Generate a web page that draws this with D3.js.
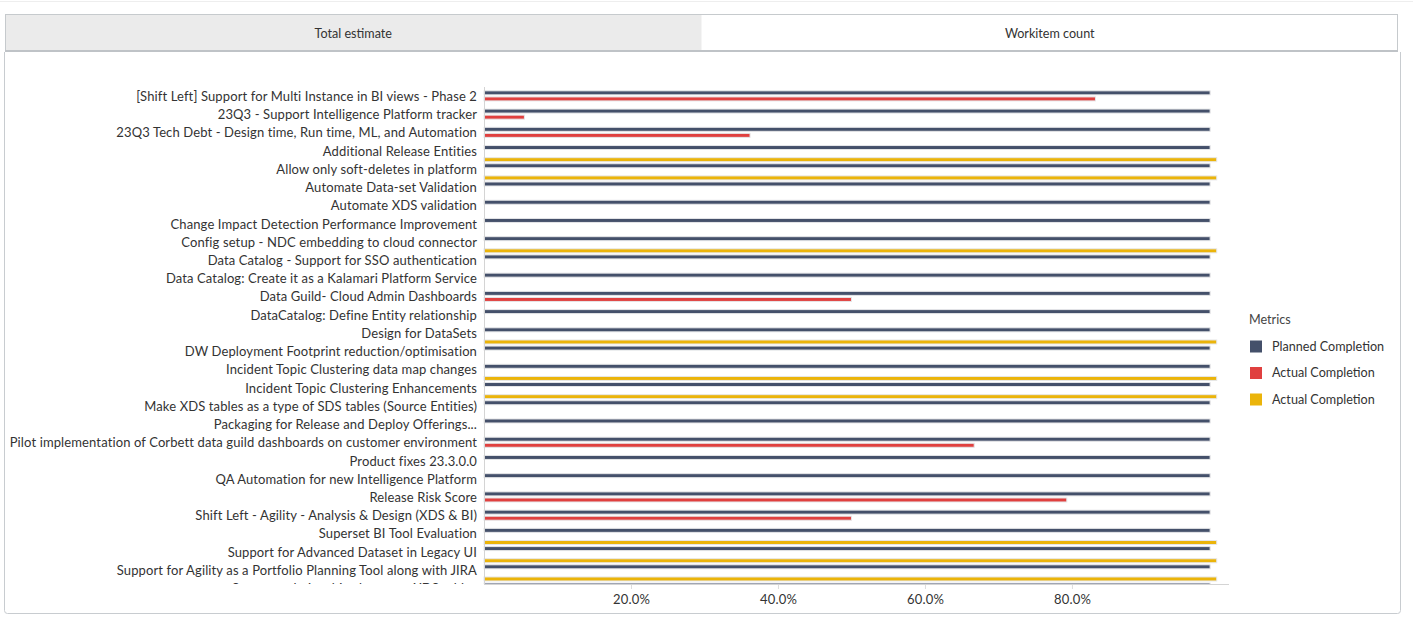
<!DOCTYPE html>
<html>
<head>
<meta charset="utf-8">
<script src="https://cdn.jsdelivr.net/npm/d3@7"></script>
<style>
  html, body { margin: 0; padding: 0; background: #fff; }
  body { width: 1413px; height: 626px; overflow: hidden; font-family: Lato, "Open Sans", sans-serif; }
</style>
</head>
<body>
<svg id="chart" width="1413" height="626"></svg>
<script>
const categories = [
  "[Shift Left] Support for Multi Instance in BI views - Phase 2",
  "23Q3 - Support Intelligence Platform tracker",
  "23Q3 Tech Debt - Design time, Run time, ML, and Automation",
  "Additional Release Entities",
  "Allow only soft-deletes in platform",
  "Automate Data-set Validation",
  "Automate XDS validation",
  "Change Impact Detection Performance Improvement",
  "Config setup - NDC embedding to cloud connector",
  "Data Catalog - Support for SSO authentication",
  "Data Catalog: Create it as a Kalamari Platform Service",
  "Data Guild- Cloud Admin Dashboards",
  "DataCatalog: Define Entity relationship",
  "Design for DataSets",
  "DW Deployment Footprint reduction/optimisation",
  "Incident Topic Clustering data map changes",
  "Incident Topic Clustering Enhancements",
  "Make XDS tables as a type of SDS tables (Source Entities)",
  "Packaging for Release and Deploy Offerings...",
  "Pilot implementation of Corbett data guild dashboards on customer environment",
  "Product fixes 23.3.0.0",
  "QA Automation for new Intelligence Platform",
  "Release Risk Score",
  "Shift Left - Agility - Analysis & Design (XDS & BI)",
  "Superset BI Tool Evaluation",
  "Support for Advanced Dataset in Legacy UI",
  "Support for Agility as a Portfolio Planning Tool along with JIRA",
  "Support relationships between XDS tables"
];
const plannedCompletion = [0.988,0.988,0.988,0.988,0.988,0.988,0.988,0.988,0.988,0.988,0.988,0.988,0.988,0.988,0.988,0.988,0.988,0.988,0.988,0.988,0.988,0.988,0.988,0.988,0.988,0.988,0.988,0.988];
const actualCompletionRed = [0.832,0.055,0.362,0,0,0,0,0,0,0,0,0.5,0,0,0,0,0,0,0,0.667,0,0,0.793,0.5,0,0,0,0];
const actualCompletionYellow = [0,0,0,0.997,0.997,0,0,0,0.997,0,0,0,0,0.997,0,0.997,0.997,0,0,0,0,0,0,0,0.997,0.997,0.997,0];
const xTicks = [0.2, 0.4, 0.6, 0.8];
const seriesNames = ["Planned Completion", "Actual Completion", "Actual Completion"];
const seriesKeys = ["planned", "red", "yellow"];
const seriesColors = ["#44506a", "#e0403f", "#ebb40a"];
const tabLabels = ["Total estimate", "Workitem count"];
const legendTitle = "Metrics";

const svg = d3.select("#chart");

// top faint line
svg.append("line").attr("x1", 0).attr("x2", 1413).attr("y1", 1.5).attr("y2", 1.5)
  .attr("stroke", "#eeeeee").attr("stroke-width", 1);

// tabs
const tabX = d3.scaleBand().domain(tabLabels).range([5, 1398]).padding(0);
svg.append("rect").attr("x", 5.5).attr("y", 14.5).attr("width", 1392).attr("height", 37)
  .attr("fill", "#fff").attr("stroke", "#c6cacd");
svg.append("rect").attr("x", 6).attr("y", 15).attr("width", tabX.bandwidth() - 1).attr("height", 36)
  .attr("fill", "#ebebeb");
svg.selectAll("text.tab").data(tabLabels).join("text").attr("class", "tab")
  .attr("x", d => tabX(d) + tabX.bandwidth() / 2).attr("y", 34.5)
  .attr("text-anchor", "middle").attr("dominant-baseline", "middle")
  .attr("font-size", 12.6).attr("letter-spacing", 0).attr("fill", "#333").text(d => d);
svg.append("line").attr("x1", 5).attr("x2", 1398).attr("y1", 51).attr("y2", 51)
  .attr("stroke", "#bfc3c7").attr("stroke-width", 2);

// panel
svg.append("path")
  .attr("d", "M4.5,52 L4.5,610.5 Q4.5,613.5 7.5,613.5 L1397.5,613.5 Q1400.5,613.5 1400.5,610.5 L1400.5,52")
  .attr("fill", "none").attr("stroke", "#c8ccd0").attr("stroke-width", 1);

// scales
const x = d3.scaleLinear().domain([0, 1.0137]).range([484, 1229]);
const y = d3.scaleBand().domain(categories).range([89.2, 89.2 + categories.length * 18.23]).padding(0);
const ySub = d3.scaleBand().domain(seriesKeys).range([0, y.bandwidth()]).padding(0);

const data = categories.map((c, i) => ({
  cat: c,
  planned: plannedCompletion[i],
  red: actualCompletionRed[i],
  yellow: actualCompletionYellow[i]
}));

// clip for scrolling plot
svg.append("defs").append("clipPath").attr("id", "plotClip")
  .append("rect").attr("x", 0).attr("y", 84).attr("width", 1240).attr("height", 500);

const plot = svg.append("g").attr("clip-path", "url(#plotClip)");

// labels
plot.selectAll("text.cat").data(categories).join("text").attr("class", "cat")
  .attr("x", 477).attr("y", d => y(d) + y.bandwidth() / 2 - 0.7)
  .attr("text-anchor", "end").attr("dominant-baseline", "middle")
  .attr("font-size", 13).attr("letter-spacing", 0.12).attr("fill", "#333").text(d => d);

// bars
const barH = 4;
seriesKeys.forEach((k, si) => {
  plot.selectAll("rect.bar-" + k).data(data.filter(d => d[k] > 0)).join("rect")
    .attr("class", "bar-" + k)
    .attr("x", x(0))
    .attr("y", d => y(d.cat) + ySub(k) + ySub.bandwidth() / 2 - barH / 2 + 0.6)
    .attr("width", d => x(d[k]) - x(0))
    .attr("height", barH)
    .attr("fill", seriesColors[si])
    .attr("stroke", "#e6e7e9").attr("stroke-width", 1);
});

// y axis line
svg.append("line").attr("x1", 484.5).attr("x2", 484.5).attr("y1", 87).attr("y2", 584)
  .attr("stroke", "#d4d4d4");

// x axis
const xAxis = d3.axisBottom(x).tickValues(xTicks).tickFormat(d3.format(".1%")).tickSize(5).tickPadding(6);
const gx = svg.append("g").attr("transform", "translate(0,584)").call(xAxis);
gx.select(".domain").attr("stroke", "#d4d4d4").attr("d", "M484,0.5H1229");
gx.selectAll(".tick line").attr("stroke", "#dddddd").attr("y1", 1);
gx.selectAll(".tick text").attr("font-family", "Lato, sans-serif").attr("font-size", 13)
  .attr("letter-spacing", 0.2).attr("fill", "#333");

// legend
svg.append("text").attr("x", 1249).attr("y", 320.5).attr("dominant-baseline", "middle")
  .attr("font-size", 12.6).attr("fill", "#444").text(legendTitle);
const lg = svg.selectAll("g.leg").data(seriesNames).join("g").attr("class", "leg")
  .attr("transform", (d, i) => `translate(1250,${346.5 + i * 26.5})`);
lg.append("rect").attr("x", 0).attr("y", -6).attr("width", 12).attr("height", 12)
  .attr("fill", (d, i) => seriesColors[i]);
lg.append("text").attr("x", 22).attr("y", 1).attr("dominant-baseline", "middle")
  .attr("font-size", 12.6).attr("fill", "#333").text(d => d);
</script>
</body>
</html>
